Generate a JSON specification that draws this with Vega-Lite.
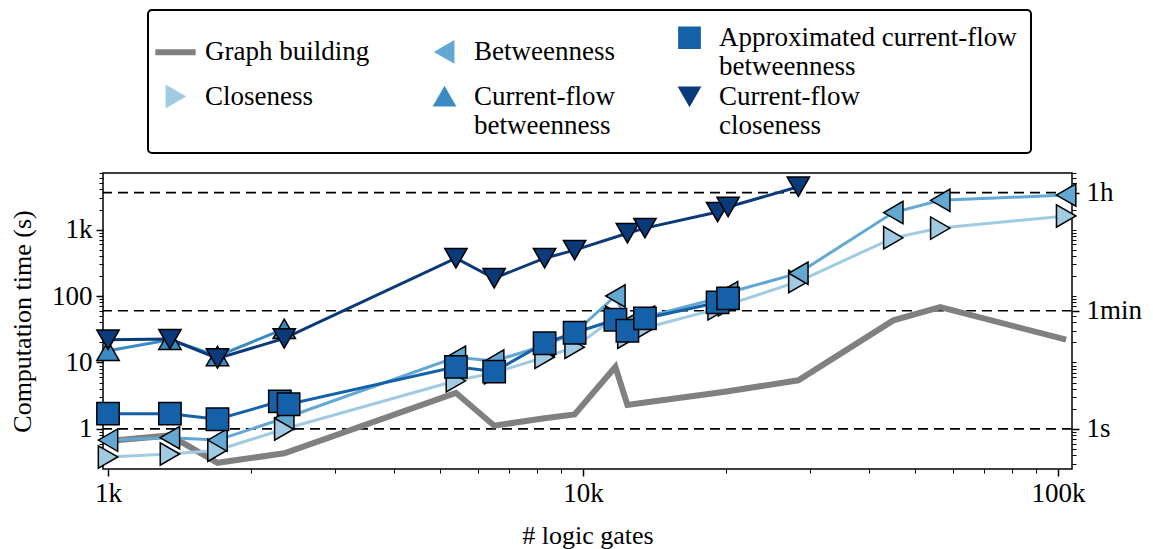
{
  "$schema": "https://vega.github.io/schema/vega-lite/v6.json",
  "width": 969,
  "height": 296,
  "autosize": "none",
  "padding": {"left": 103, "top": 173, "right": 81, "bottom": 80},
  "background": "white",
  "config": {
    "view": {"stroke": "black", "strokeWidth": 1.5},
    "font": "Liberation Serif",
    "legend": {"strokeWidth": 2}
  },
  "datasets": {
    "refs": [{"time": 1}, {"time": 60}, {"time": 3600}],
    "main": [
      {"gates": 1000, "time": 0.66, "series": "Graph building"},
      {"gates": 1350, "time": 0.8, "series": "Graph building"},
      {"gates": 1700, "time": 0.31, "series": "Graph building"},
      {"gates": 2350, "time": 0.43, "series": "Graph building"},
      {"gates": 5400, "time": 3.5, "series": "Graph building"},
      {"gates": 6500, "time": 1.12, "series": "Graph building"},
      {"gates": 8300, "time": 1.45, "series": "Graph building"},
      {"gates": 9600, "time": 1.65, "series": "Graph building"},
      {"gates": 11700, "time": 8.6, "series": "Graph building"},
      {"gates": 12400, "time": 2.3, "series": "Graph building"},
      {"gates": 13500, "time": 2.5, "series": "Graph building"},
      {"gates": 19200, "time": 3.5, "series": "Graph building"},
      {"gates": 20200, "time": 3.7, "series": "Graph building"},
      {"gates": 28400, "time": 5.4, "series": "Graph building"},
      {"gates": 45000, "time": 43, "series": "Graph building"},
      {"gates": 56500, "time": 68, "series": "Graph building"},
      {"gates": 104000, "time": 22, "series": "Graph building"},

      {"gates": 1000, "time": 0.38, "series": "Closeness"},
      {"gates": 1350, "time": 0.42, "series": "Closeness"},
      {"gates": 1700, "time": 0.48, "series": "Closeness"},
      {"gates": 2350, "time": 1.0, "series": "Closeness"},
      {"gates": 5400, "time": 5.3, "series": "Closeness"},
      {"gates": 6500, "time": 7.0, "series": "Closeness"},
      {"gates": 8300, "time": 12, "series": "Closeness"},
      {"gates": 9600, "time": 17, "series": "Closeness"},
      {"gates": 11700, "time": 48, "series": "Closeness"},
      {"gates": 12400, "time": 24, "series": "Closeness"},
      {"gates": 13500, "time": 33, "series": "Closeness"},
      {"gates": 19200, "time": 64, "series": "Closeness"},
      {"gates": 20200, "time": 74, "series": "Closeness"},
      {"gates": 28400, "time": 165, "series": "Closeness"},
      {"gates": 45000, "time": 750, "series": "Closeness"},
      {"gates": 56500, "time": 1050, "series": "Closeness"},
      {"gates": 104000, "time": 1600, "series": "Closeness"},

      {"gates": 1000, "time": 0.68, "series": "Betweenness"},
      {"gates": 1350, "time": 0.74, "series": "Betweenness"},
      {"gates": 1700, "time": 0.68, "series": "Betweenness"},
      {"gates": 2350, "time": 1.45, "series": "Betweenness"},
      {"gates": 5400, "time": 12, "series": "Betweenness"},
      {"gates": 6500, "time": 10.5, "series": "Betweenness"},
      {"gates": 8300, "time": 18, "series": "Betweenness"},
      {"gates": 9600, "time": 28, "series": "Betweenness"},
      {"gates": 11700, "time": 100, "series": "Betweenness"},
      {"gates": 12400, "time": 38, "series": "Betweenness"},
      {"gates": 13500, "time": 48, "series": "Betweenness"},
      {"gates": 19200, "time": 92, "series": "Betweenness"},
      {"gates": 20200, "time": 112, "series": "Betweenness"},
      {"gates": 28400, "time": 220, "series": "Betweenness"},
      {"gates": 45000, "time": 1800, "series": "Betweenness"},
      {"gates": 56500, "time": 2750, "series": "Betweenness"},
      {"gates": 104000, "time": 3300, "series": "Betweenness"},

      {"gates": 1000, "time": 15, "series": "Current-flow betweenness"},
      {"gates": 1350, "time": 22, "series": "Current-flow betweenness"},
      {"gates": 1700, "time": 12.5, "series": "Current-flow betweenness"},
      {"gates": 2350, "time": 32, "series": "Current-flow betweenness"},

      {"gates": 1000, "time": 1.7, "series": "Approximated current-flow betweenness"},
      {"gates": 1350, "time": 1.7, "series": "Approximated current-flow betweenness"},
      {"gates": 1700, "time": 1.4, "series": "Approximated current-flow betweenness"},
      {"gates": 2300, "time": 2.6, "series": "Approximated current-flow betweenness"},
      {"gates": 2400, "time": 2.35, "series": "Approximated current-flow betweenness"},
      {"gates": 5400, "time": 8.6, "series": "Approximated current-flow betweenness"},
      {"gates": 6500, "time": 7.3, "series": "Approximated current-flow betweenness"},
      {"gates": 8300, "time": 19.5, "series": "Approximated current-flow betweenness"},
      {"gates": 9600, "time": 28, "series": "Approximated current-flow betweenness"},
      {"gates": 11700, "time": 44, "series": "Approximated current-flow betweenness"},
      {"gates": 12400, "time": 30, "series": "Approximated current-flow betweenness"},
      {"gates": 13500, "time": 46, "series": "Approximated current-flow betweenness"},
      {"gates": 19200, "time": 80, "series": "Approximated current-flow betweenness"},
      {"gates": 20200, "time": 92, "series": "Approximated current-flow betweenness"},

      {"gates": 1000, "time": 22, "series": "Current-flow closeness"},
      {"gates": 1350, "time": 22.5, "series": "Current-flow closeness"},
      {"gates": 1700, "time": 11.5, "series": "Current-flow closeness"},
      {"gates": 2350, "time": 23, "series": "Current-flow closeness"},
      {"gates": 5400, "time": 370, "series": "Current-flow closeness"},
      {"gates": 6500, "time": 185, "series": "Current-flow closeness"},
      {"gates": 8300, "time": 370, "series": "Current-flow closeness"},
      {"gates": 9600, "time": 490, "series": "Current-flow closeness"},
      {"gates": 12400, "time": 880, "series": "Current-flow closeness"},
      {"gates": 13500, "time": 1050, "series": "Current-flow closeness"},
      {"gates": 19200, "time": 1830, "series": "Current-flow closeness"},
      {"gates": 20200, "time": 2180, "series": "Current-flow closeness"},
      {"gates": 28400, "time": 4400, "series": "Current-flow closeness"}
    ]
  },
  "layer": [
    {
      "data": {"name": "refs"},
      "mark": {"type": "rule", "strokeDash": [10, 6], "strokeWidth": 1.7, "color": "black"},
      "encoding": {
        "y": {
          "field": "time", "type": "quantitative",
          "scale": {"type": "log", "domain": [0.25, 7080], "nice": false, "zero": false},
          "axis": {
            "orient": "right", "title": null, "grid": false, "domain": false,
            "values": [0.3,0.4,0.5,0.6,0.7,0.8,0.9,1,2,3,4,5,6,7,8,9,10,20,30,40,50,60,70,80,90,100,200,300,400,500,600,700,800,900,1000,2000,3000,3600,4000,5000,6000,7000],
            "labelExpr": "datum.value == 1 ? '1s' : datum.value == 60 ? '1min' : datum.value == 3600 ? '1h' : ''",
            "tickSize": {"condition": {"test": "datum.value == 1 || datum.value == 60 || datum.value == 3600", "value": 7}, "value": 4},
            "tickWidth": {"condition": {"test": "datum.value == 1 || datum.value == 60 || datum.value == 3600", "value": 1.5}, "value": 1},
            "tickColor": "black", "labelColor": "black", "labelFont": "Liberation Serif", "labelFontSize": 27,
            "labelOverlap": false, "labelFlush": false, "labelPadding": 7
          }
        }
      }
    },
    {
      "data": {"name": "main"},
      "transform": [{"filter": "datum.series == 'Graph building'"}],
      "mark": {"type": "line", "strokeWidth": 6, "color": "#808080"},
      "encoding": {
        "x": {
          "field": "gates", "type": "quantitative",
          "scale": {"type": "log", "domain": [976, 107000], "nice": false, "zero": false},
          "axis": {
            "title": "# logic gates", "grid": false, "domain": false,
            "values": [1000,2000,3000,4000,5000,6000,7000,8000,9000,10000,20000,30000,40000,50000,60000,70000,80000,90000,100000],
            "labelExpr": "datum.value == 1000 ? '1k' : datum.value == 10000 ? '10k' : datum.value == 100000 ? '100k' : ''",
            "tickSize": {"condition": {"test": "datum.value == 1000 || datum.value == 10000 || datum.value == 100000", "value": 7}, "value": 4},
            "tickWidth": {"condition": {"test": "datum.value == 1000 || datum.value == 10000 || datum.value == 100000", "value": 1.5}, "value": 1},
            "tickColor": "black", "labelColor": "black", "titleColor": "black",
            "labelFont": "Liberation Serif", "labelFontSize": 27,
            "titleFont": "Liberation Serif", "titleFontSize": 26, "titleFontWeight": "normal",
            "labelOverlap": false, "labelFlush": false, "labelPadding": 4, "titlePadding": 16
          }
        },
        "y": {"field": "time", "type": "quantitative", "axis": null}
      }
    },
    {
      "data": {"name": "main"},
      "transform": [{"filter": "datum.series != 'Graph building'"}],
      "mark": {"type": "line", "strokeWidth": 3},
      "encoding": {
        "x": {"field": "gates", "type": "quantitative"},
        "y": {"field": "time", "type": "quantitative", "axis": null},
        "color": {"field": "series", "type": "nominal"}
      }
    },
    {
      "data": {"name": "main"},
      "transform": [{"filter": "datum.series != 'Graph building'"}],
      "mark": {"type": "point", "filled": true, "size": 500, "opacity": 1},
      "encoding": {
        "x": {"field": "gates", "type": "quantitative"},
        "y": {
          "field": "time", "type": "quantitative",
          "axis": {
            "orient": "left", "title": "Computation time (s)", "grid": false, "domain": false,
            "values": [0.3,0.4,0.5,0.6,0.7,0.8,0.9,1,2,3,4,5,6,7,8,9,10,20,30,40,50,60,70,80,90,100,200,300,400,500,600,700,800,900,1000,2000,3000,4000,5000,6000,7000],
            "labelExpr": "datum.value == 1 ? '1' : datum.value == 10 ? '10' : datum.value == 100 ? '100' : datum.value == 1000 ? '1k' : ''",
            "tickSize": {"condition": {"test": "datum.value == 1 || datum.value == 10 || datum.value == 100 || datum.value == 1000", "value": 7}, "value": 4},
            "tickWidth": {"condition": {"test": "datum.value == 1 || datum.value == 10 || datum.value == 100 || datum.value == 1000", "value": 1.5}, "value": 1},
            "tickColor": "black", "labelColor": "black", "titleColor": "black",
            "labelFont": "Liberation Serif", "labelFontSize": 27,
            "titleFont": "Liberation Serif", "titleFontSize": 26, "titleFontWeight": "normal",
            "labelOverlap": false, "labelFlush": false, "labelPadding": 4, "titlePadding": 16
          }
        },
        "color": {
          "field": "series", "type": "nominal",
          "scale": {
            "domain": ["Graph building", "Closeness", "Betweenness", "Current-flow betweenness", "Approximated current-flow betweenness", "Current-flow closeness"],
            "range": ["#808080", "#a0cbe2", "#62a8d3", "#3b8bc2", "#1561a9", "#0b3a7a"]
          },
          "legend": {
            "orient": "none", "legendX": 45, "legendY": -163, "columns": 3, "gridAlign": "each",
            "columnPadding": 60, "rowPadding": 2, "padding": 14,
            "strokeColor": "black", "fillColor": "white", "cornerRadius": 4,
            "title": null, "labelFont": "Liberation Serif", "labelFontSize": 27, "labelColor": "black",
            "labelLimit": 600, "labelOffset": 16, "symbolSize": 450,
            "labelExpr": "datum.label == 'Approximated current-flow betweenness' ? ['Approximated current-flow', 'betweenness'] : datum.label == 'Current-flow betweenness' ? ['Current-flow', 'betweenness'] : datum.label == 'Current-flow closeness' ? ['Current-flow', 'closeness'] : datum.label"
          }
        },
        "stroke": {
          "field": "series", "type": "nominal",
          "scale": {
            "domain": ["Graph building", "Closeness", "Betweenness", "Current-flow betweenness", "Approximated current-flow betweenness", "Current-flow closeness"],
            "range": ["#808080", "#000000", "#000000", "#000000", "#000000", "#000000"]
          }
        },
        "shape": {
          "field": "series", "type": "nominal",
          "scale": {
            "domain": ["Graph building", "Closeness", "Betweenness", "Current-flow betweenness", "Approximated current-flow betweenness", "Current-flow closeness"],
            "range": ["M-1.9,-0.28H1.9V0.28H-1.9Z", "triangle-right", "triangle-left", "triangle-up", "square", "triangle-down"]
          }
        },
        "strokeWidth": {
          "field": "series", "type": "nominal",
          "scale": {
            "type": "ordinal",
            "domain": ["Graph building", "Closeness", "Betweenness", "Current-flow betweenness", "Approximated current-flow betweenness", "Current-flow closeness"],
            "range": [0, 1.5, 1.5, 1.5, 1.5, 1.5]
          }
        }
      }
    }
  ],
  "resolve": {"axis": {"y": "independent"}}
}
